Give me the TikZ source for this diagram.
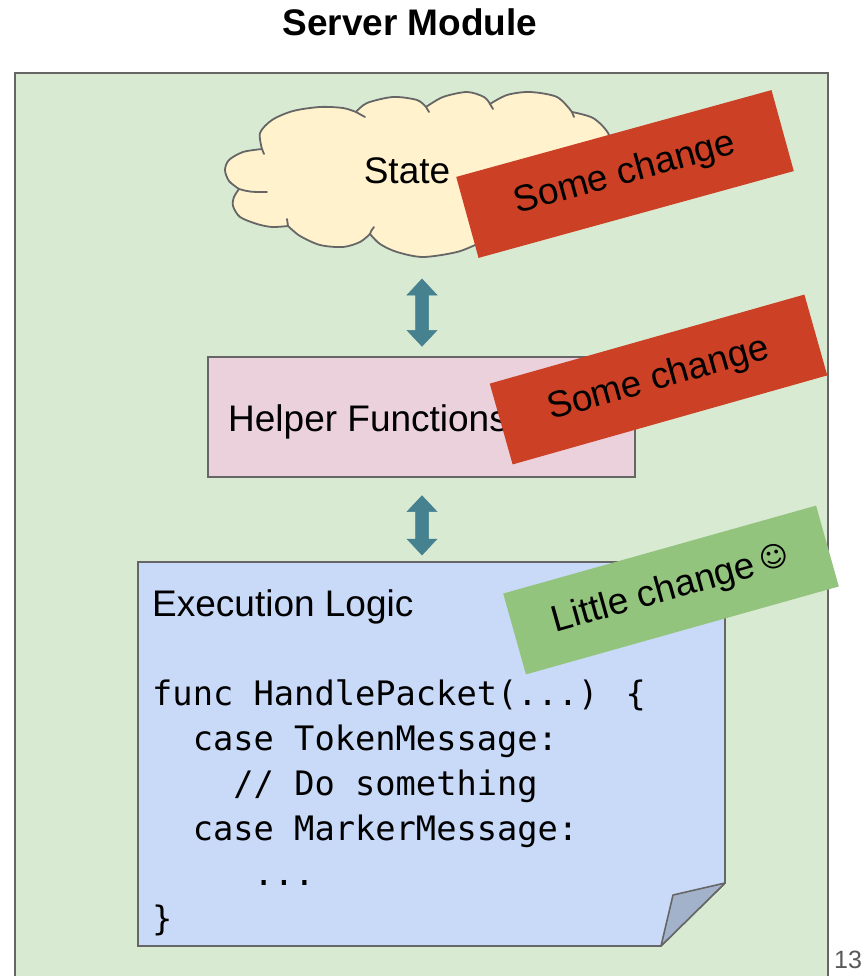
\documentclass[tikz,border=0pt]{standalone}
\usepackage{fontspec}
\setmainfont{Liberation Sans}
\newfontfamily\codefont{DejaVu Sans Mono}
\newfontfamily\symfont{DejaVu Sans}
\usetikzlibrary{calc}

\definecolor{panelgreen}{HTML}{D9EAD3}
\definecolor{edgegray}{HTML}{666666}
\definecolor{cloudfill}{HTML}{FFF2CC}
\definecolor{helperpink}{HTML}{EAD1DC}
\definecolor{noteblue}{HTML}{C9DAF8}
\definecolor{flapblue}{HTML}{A3B2CB}
\definecolor{tagred}{HTML}{CC4125}
\definecolor{taggreen}{HTML}{93C47D}
\definecolor{arrowteal}{HTML}{45818E}
\definecolor{pagegray}{HTML}{595959}

\tikzset{
  bigtext/.style={font=\fontsize{37}{44}\selectfont, inner sep=0pt},
  codeline/.style={font=\codefont\fontsize{33.7}{45}\selectfont, inner sep=0pt, anchor=base west},
  outline/.style={draw=edgegray, line width=1.6pt},
  tagbox/.style={bigtext, minimum width=327pt, minimum height=84pt, anchor=center},
  blockarrow/.style={fill=arrowteal, draw=arrowteal, line width=0.5pt, line join=miter},
}

% vertical double-headed block arrow from the upper point #1 to the lower point #2
\newcommand\blockarrow[2]{%
  \path[blockarrow] let \p1=(#1), \p2=(#2) in
    (\x1,\y1) -- (\x1+15pt,\y1-16pt) -- (\x1+6.5pt,\y1-16pt) -- (\x1+6.5pt,\y2+16pt)
    -- (\x1+15pt,\y2+16pt) -- (\x1,\y2) -- (\x1-15pt,\y2+16pt) -- (\x1-6.5pt,\y2+16pt)
    -- (\x1-6.5pt,\y1-16pt) -- (\x1-15pt,\y1-16pt) -- cycle;}

\begin{document}
\begin{tikzpicture}[x=1pt,y=1pt]
\useasboundingbox (0,0) rectangle (865,-976);
\clip (0,0) rectangle (865,-976);

% title
\node[bigtext, font=\bfseries\fontsize{37}{44}\selectfont, anchor=base] (title) at (410,-35.5) {Server Module};

% module panel (runs off the bottom edge)
\path[fill=panelgreen, outline, line width=2pt] (15,-73) rectangle (828,-1000);

% state cloud, one smooth arc per puff
\path[fill=cloudfill, outline, line width=1.8pt, line join=round]
  plot[smooth] coordinates {(239,-189) (229,-181) (225,-170) (229,-160) (243,-152) (262,-149)}
  -- plot[smooth] coordinates {(262,-149) (260,-133) (272,-120) (293,-111) (320,-107) (343,-108) (356,-112)}
  -- plot[smooth] coordinates {(356,-112) (367,-103) (393,-97) (417,-100) (426,-107)}
  -- plot[smooth] coordinates {(426,-107) (443,-97) (467,-92) (484,-97) (490,-104)}
  -- plot[smooth] coordinates {(490,-104) (507,-95) (530,-92) (557,-97) (572,-112)}
  -- plot[smooth] coordinates {(572,-112) (593,-118) (608,-133) (614,-155) (612,-175) (600,-195)}
  -- plot[smooth] coordinates {(600,-195) (590,-212) (560,-228) (530,-235) (500,-236)}
  -- plot[smooth] coordinates {(500,-236) (480,-243) (457,-252) (423,-257) (397,-252) (380,-244) (370,-234)}
  -- plot[smooth] coordinates {(370,-234) (360,-242) (343,-247) (320,-245) (300,-236) (288,-226)}
  -- plot[smooth] coordinates {(288,-226) (272,-227) (257,-224) (240,-217) (233,-206) (234,-197) (239,-189)}
  -- cycle;
% inner curls where the puffs meet
\begin{scope}[draw=edgegray, line width=1.8pt, line cap=round]
  \draw (239,-189) .. controls (250,-192) .. (267,-192);
  \draw (262,-149) .. controls (263,-151) .. (264,-154);
  \draw (356,-112) .. controls (360,-114) .. (365,-117);
  \draw (426,-107) .. controls (428,-109) .. (429,-112);
  \draw (490,-104) .. controls (492,-106) .. (493,-109);
  \draw (572,-112) .. controls (573,-114) .. (574,-117);
  \draw (370,-234) .. controls (371,-231) .. (374,-227);
  \draw (288,-226) .. controls (288,-223) .. (287,-219);
\end{scope}
\coordinate (cloudbot) at (422,-257);
\node[bigtext, anchor=base] (state) at (407,-184) {State};

\node[tagbox, fill=tagred, rotate=15.4] (tag1) at (625,-174) {Some change};

% helper functions
\node[fill=helperpink, outline, line width=1.4pt, minimum width=427pt, minimum height=120pt, inner sep=0pt]
  (helper) at (421.5,-417) {};
\node[bigtext, anchor=base west] (helpertext) at (228,-431) {Helper Functions};

\blockarrow{$(cloudbot)+(0,-22)$}{$(helper.north)+(0.5,10)$}

\node[tagbox, fill=tagred, rotate=15.8] (tag2) at (658.5,-379.5) {Some change};

% execution logic note with a folded corner
\coordinate (notetop) at (422,-562);
\path[fill=noteblue, outline] (138,-562) -- (725,-562) -- (725,-883) -- (661,-946) -- (138,-946) -- cycle;
\path[fill=flapblue, outline, line join=round] (725,-883) -- (673,-895) -- (661,-946) -- cycle;

\blockarrow{$(helper.south)+(0.5,-18)$}{$(notetop)+(0,7)$}

\node[bigtext, anchor=base west] (exectext) at (152,-616) {Execution Logic};
\node[codeline] (code1) at (152,-705) {func HandlePacket(...) \{};
\node[codeline] (code2) at (192.6,-750) {case TokenMessage:};
\node[codeline] (code3) at (233.2,-795) {// Do something};
\node[codeline] (code4) at (192.6,-840) {case MarkerMessage:};
\node[codeline] (code5) at (253.5,-885) {...};
\node[codeline] (code6) at (152,-930) {\}};

\node[tagbox, fill=taggreen, rotate=15.7, minimum width=325pt] (tag3) at (671,-590)
  {Little change\,\raisebox{4pt}{\symfont\fontsize{28}{28}\selectfont ☺}};

% slide number
\node[inner sep=0pt, anchor=base west, text=pagegray, font=\fontsize{25}{30}\selectfont] (pagenum) at (834,-968) {13};
\end{tikzpicture}
\end{document}
